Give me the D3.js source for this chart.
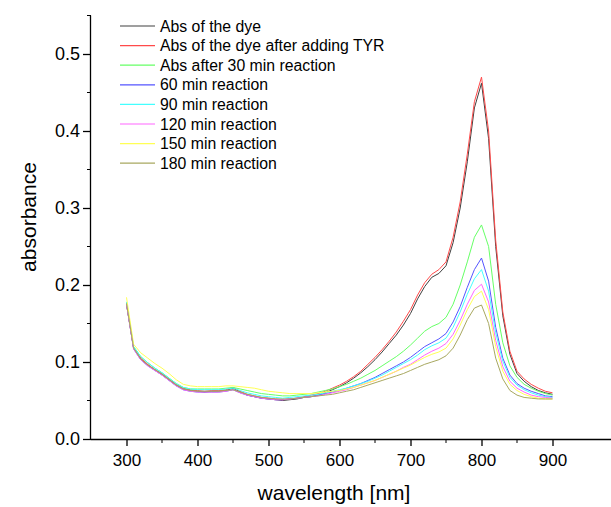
<!DOCTYPE html>
<html>
<head>
<meta charset="utf-8">
<script src="https://cdn.jsdelivr.net/npm/d3@7"></script>
<style>
  body { margin: 0; background: #fff; }
  text { font-family: "Liberation Sans", Arial, sans-serif; fill: #000; }
</style>
</head>
<body>
<div id="chart"></div>
<script>
// wavelength grid (nm)
var wavelengths = d3.range(300, 901, 10)

var seriesNames = [
    'Abs of the dye',
    'Abs of the dye after adding TYR',
    'Abs after 30 min reaction',
    '60 min reaction',
    '90 min reaction',
    '120 min reaction',
    '150 min reaction',
    '180 min reaction'
]
var seriesColors = ['#404040', '#ff4a4a', '#66ff66', '#5555ff', '#44ffff', '#ff66ff', '#ffff55', '#a8a860']

var absDye = [
    .175, .118, .104, .096, .090, .084, .077, .070, .065, .063,
    .062, .061, .062, .062, .063, .066, .061, .057, .055, .053,
    .052, .051, .050, .051, .052, .054, .055, .057, .060, .064,
    .068, .073, .079, .086, .094, .103, .113, .124, .135, .148,
    .163, .182, .198, .210, .215, .225, .255, .300, .360, .430,
    .462, .390, .250, .160, .110, .085, .075, .068, .063, .060, .058]
var absTyr = [
    .176, .119, .105, .097, .090, .085, .078, .071, .066, .064,
    .063, .062, .063, .063, .064, .067, .062, .058, .056, .054,
    .053, .052, .051, .052, .053, .055, .057, .059, .062, .066,
    .070, .075, .081, .088, .097, .106, .116, .127, .139, .153,
    .168, .187, .203, .214, .220, .230, .262, .308, .370, .438,
    .470, .400, .258, .165, .114, .088, .078, .071, .066, .062, .060]
var abs30 = [
    .178, .120, .107, .099, .092, .086, .079, .072, .067, .065,
    .065, .065, .065, .065, .066, .067, .065, .063, .061, .059,
    .058, .057, .056, .056, .057, .058, .059, .061, .063, .065,
    .068, .071, .075, .079, .084, .089, .095, .101, .107, .114,
    .122, .131, .140, .146, .150, .158, .175, .200, .230, .262,
    .278, .250, .175, .125, .095, .080, .071, .066, .062, .059, .057]
var abs60 = [
    .176, .117, .103, .095, .089, .083, .076, .069, .064, .062,
    .061, .061, .061, .061, .062, .064, .060, .057, .055, .053,
    .052, .051, .051, .052, .053, .054, .055, .057, .059, .061,
    .063, .066, .069, .072, .076, .080, .085, .090, .095, .100,
    .106, .113, .120, .125, .130, .137, .152, .172, .197, .220,
    .235, .205, .145, .105, .083, .072, .066, .062, .059, .056, .055]
var abs90 = [
    .178, .120, .107, .099, .092, .086, .079, .072, .067, .065,
    .064, .064, .064, .064, .065, .066, .063, .060, .058, .056,
    .055, .054, .053, .054, .055, .056, .057, .058, .060, .062,
    .064, .066, .069, .072, .075, .079, .083, .088, .093, .098,
    .103, .109, .116, .121, .125, .131, .145, .165, .188, .208,
    .220, .192, .138, .101, .080, .070, .064, .060, .057, .055, .054]
var abs120 = [
    .175, .117, .103, .095, .089, .083, .076, .069, .064, .062,
    .061, .061, .061, .061, .062, .064, .060, .057, .055, .053,
    .052, .051, .051, .052, .053, .054, .055, .056, .058, .060,
    .062, .064, .067, .070, .073, .076, .080, .084, .088, .093,
    .097, .103, .109, .114, .118, .124, .136, .154, .175, .193,
    .201, .178, .128, .094, .075, .066, .061, .057, .055, .054, .053]
var abs150 = [
    .184, .123, .112, .105, .098, .092, .085, .077, .071, .069,
    .068, .068, .068, .068, .069, .069, .068, .067, .066, .064,
    .062, .061, .060, .059, .059, .059, .059, .060, .061, .062,
    .063, .065, .067, .070, .073, .076, .080, .084, .088, .092,
    .096, .101, .106, .110, .113, .118, .130, .148, .168, .185,
    .192, .168, .120, .088, .071, .063, .058, .055, .053, .052, .052]
var abs180 = [
    .176, .118, .104, .096, .090, .084, .077, .070, .065, .063,
    .062, .062, .062, .062, .063, .064, .061, .058, .056, .054,
    .053, .052, .052, .052, .053, .054, .055, .056, .057, .058,
    .060, .062, .064, .067, .070, .073, .076, .079, .082, .085,
    .089, .093, .097, .100, .103, .108, .118, .135, .155, .170,
    .174, .150, .105, .078, .063, .057, .054, .053, .052, .052, .052]

var seriesValues = [absDye, absTyr, abs30, abs60, abs90, abs120, abs150, abs180]

var xMajorTicks = [300, 400, 500, 600, 700, 800, 900]
var xMinorTicks = [350, 450, 550, 650, 750, 850]
var yMajorTicks = [0, 0.1, 0.2, 0.3, 0.4, 0.5]
var yMinorTicks = [0.05, 0.15, 0.25, 0.35, 0.45, 0.55]

var width = 611,
    height = 507

var svg = d3.select('#chart')
    .append('svg')
    .attr('width', width)
    .attr('height', height)

// scales
var xscale = d3.scaleLinear()
    .domain([250, 1000])
    .range([91, 623.5])

var yscale = d3.scaleLinear()
    .domain([0, 0.55])
    .range([439, 15.5])

// axes
var xaxis = d3.axisBottom(xscale)
    .tickValues(xMajorTicks)
    .tickSize(7)
    .tickPadding(8)
    .tickFormat(d3.format('d'))
var gx = svg.append('g')
    .attr('transform', 'translate(0,' + yscale(0) + ')')
    .call(xaxis)
gx.select('.domain').attr('d', 'M' + xscale(250) + ',0.5H' + width)

gx.selectAll('.minor')
    .data(xMinorTicks)
    .enter()
    .append('line')
    .attr('x1', d => xscale(d))
    .attr('x2', d => xscale(d))
    .attr('y1', 0)
    .attr('y2', 4)
    .attr('stroke', '#000')

var yaxis = d3.axisLeft(yscale)
    .tickValues(yMajorTicks)
    .tickSize(8)
    .tickPadding(3)
    .tickFormat(d3.format('.1f'))
var gy = svg.append('g')
    .attr('transform', 'translate(' + xscale(250) + ',0)')
    .call(yaxis)
gy.select('.domain').attr('d', 'M-0.5,' + yscale(0.55) + 'V' + yscale(0))

gy.selectAll('.minor')
    .data(yMinorTicks)
    .enter()
    .append('line')
    .attr('x1', -4)
    .attr('x2', 0)
    .attr('y1', d => yscale(d))
    .attr('y2', d => yscale(d))
    .attr('stroke', '#000')

svg.selectAll('.domain, .tick line').attr('stroke-width', 1.3)
svg.selectAll('.tick text')
    .style('font-family', '"Liberation Sans", Arial, sans-serif')
    .style('font-size', '17px')
gy.selectAll('.tick text').style('font-size', '18px')

// axis titles
svg.append('text')
    .attr('x', 334)
    .attr('y', 500)
    .attr('text-anchor', 'middle')
    .style('font-size', '21px')
    .text('wavelength [nm]')

svg.append('text')
    .attr('transform', 'translate(36,217) rotate(-90)')
    .attr('text-anchor', 'middle')
    .style('font-size', '21px')
    .text('absorbance')

// spectra
var line = d3.line()
    .x((d, i) => xscale(wavelengths[i]))
    .y(d => yscale(d))

svg.selectAll('.spectrum')
    .data(seriesValues)
    .enter()
    .append('path')
    .attr('class', 'spectrum')
    .attr('d', d => line(d))
    .attr('fill', 'none')
    .attr('stroke', (d, i) => seriesColors[i])
    .attr('stroke-width', 1)

// legend
var legend = svg.selectAll('.legend')
    .data(seriesNames)
    .enter()
    .append('g')
    .attr('class', 'legend')
    .attr('transform', (d, i) => 'translate(120,' + (26 + i * 19.6) + ')')

legend.append('line')
    .attr('x1', 0)
    .attr('x2', 35)
    .attr('y1', 0)
    .attr('y2', 0)
    .attr('stroke', (d, i) => seriesColors[i])
    .attr('stroke-width', 1.2)

legend.append('text')
    .attr('x', 40)
    .attr('y', 5.5)
    .style('font-size', '15.8px')
    .text(d => d)
</script>
</body>
</html>
